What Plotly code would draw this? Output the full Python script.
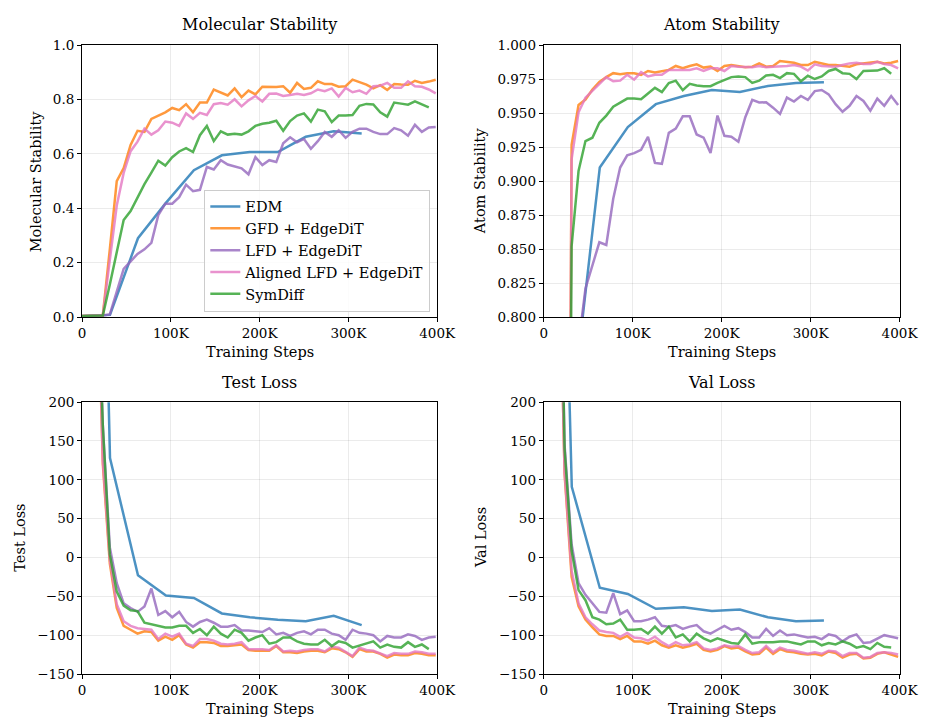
import plotly.graph_objects as go
from plotly.subplots import make_subplots

# ---------------- data ----------------
steps_k = [0, 7.8, 15.6, 23.4, 31.3, 39.1, 46.9, 54.7, 62.5, 70.3, 78.1, 85.9, 93.8,
           101.6, 109.4, 117.2, 125, 132.8, 140.6, 148.4, 156.3, 164.1, 171.9, 179.7,
           187.5, 195.3, 203.1, 210.9, 218.8, 226.6, 234.4, 242.2, 250, 257.8, 265.6,
           273.4, 281.3, 289.1, 296.9, 304.7, 312.5, 320.3, 328.1, 335.9, 343.8, 351.6,
           359.4, 367.2, 375, 382.8, 390.6, 398.4]
edm_steps_k = [0, 31.5, 63, 94.5, 126, 157.5, 189, 220.5, 252, 283.5, 315]

series_names = ["EDM", "GFD + EdgeDiT", "LFD + EdgeDiT", "Aligned LFD + EdgeDiT", "SymDiff"]
series_colors = ["rgba(31,119,180,0.8)", "rgba(255,127,14,0.8)", "rgba(148,103,189,0.8)",
                 "rgba(227,119,194,0.8)", "rgba(44,160,44,0.8)"]

# Molecular stability
mol_edm = [0.003, 0.008, 0.29, 0.42, 0.54, 0.595, 0.607, 0.607, 0.663, 0.683, 0.675]
mol_gfd = [0.004, 0.004, 0.005, 0.006, 0.25, 0.50, 0.548, 0.633, 0.685, 0.681, 0.729, 0.741,
           0.753, 0.769, 0.761, 0.783, 0.753, 0.789, 0.789, 0.837, 0.825, 0.815, 0.841, 0.809,
           0.833, 0.819, 0.847, 0.847, 0.846, 0.849, 0.825, 0.861, 0.839, 0.843, 0.867, 0.857,
           0.857, 0.847, 0.849, 0.873, 0.864, 0.855, 0.841, 0.853, 0.835, 0.857, 0.855, 0.854,
           0.869, 0.861, 0.866, 0.873]
mol_lfd = [0.004, 0.004, 0.005, 0.006, 0.01, 0.09, 0.177, 0.205, 0.232, 0.249, 0.273, 0.375,
           0.417, 0.417, 0.441, 0.487, 0.463, 0.468, 0.552, 0.543, 0.577, 0.561, 0.555, 0.547,
           0.525, 0.588, 0.559, 0.577, 0.570, 0.639, 0.661, 0.643, 0.655, 0.619, 0.647, 0.681,
           0.663, 0.687, 0.659, 0.681, 0.693, 0.693, 0.681, 0.673, 0.673, 0.695, 0.687, 0.667,
           0.707, 0.681, 0.697, 0.699]
mol_alfd = [0.004, 0.004, 0.005, 0.006, 0.21, 0.41, 0.53, 0.61, 0.645, 0.693, 0.671, 0.687,
            0.719, 0.715, 0.703, 0.749, 0.729, 0.751, 0.743, 0.783, 0.787, 0.781, 0.801, 0.775,
            0.797, 0.813, 0.793, 0.821, 0.822, 0.813, 0.817, 0.821, 0.817, 0.823, 0.837, 0.831,
            0.841, 0.811, 0.843, 0.827, 0.833, 0.821, 0.849, 0.851, 0.861, 0.843, 0.843, 0.867,
            0.849, 0.847, 0.837, 0.823]
mol_sym = [0.004, 0.004, 0.005, 0.006, 0.12, 0.24, 0.357, 0.39, 0.441, 0.489, 0.531, 0.575,
           0.557, 0.588, 0.609, 0.621, 0.607, 0.669, 0.703, 0.647, 0.683, 0.671, 0.674, 0.671,
           0.683, 0.703, 0.711, 0.715, 0.722, 0.685, 0.721, 0.741, 0.749, 0.719, 0.763, 0.757,
           0.717, 0.741, 0.741, 0.743, 0.777, 0.784, 0.782, 0.753, 0.737, 0.789, 0.785, 0.781,
           0.793, 0.781, 0.771]

# Atom stability
atom_edm = [0.0, 0.73, 0.910, 0.9398, 0.9566, 0.9626, 0.967, 0.9655, 0.970, 0.9722, 0.9727]
atom_gfd = [0.0, 0.0, 0.0, 0.0, 0.9266, 0.956, 0.960, 0.9674, 0.9729, 0.9765, 0.9794, 0.9787,
            0.9794, 0.9794, 0.9782, 0.981, 0.9799, 0.9806, 0.9818, 0.9847, 0.983, 0.9847, 0.9859,
            0.9835, 0.9842, 0.981, 0.9847, 0.9854, 0.9847, 0.9837, 0.9842, 0.9866, 0.9842, 0.9847,
            0.9883, 0.9878, 0.9871, 0.9854, 0.9854, 0.9878, 0.9866, 0.9854, 0.9854, 0.9847,
            0.9842, 0.9859, 0.9866, 0.9871, 0.9878, 0.9866, 0.9871, 0.9883]
atom_lfd = [0.0, 0.0, 0.0, 0.0, 0.45, 0.78, 0.821, 0.838, 0.855, 0.853, 0.887, 0.910, 0.919,
            0.9206, 0.923, 0.9326, 0.9134, 0.9127, 0.9355, 0.9386, 0.9477, 0.9477, 0.9343, 0.932,
            0.9206, 0.9482, 0.9333, 0.9326, 0.929, 0.947, 0.9597, 0.9578, 0.958, 0.954, 0.9494,
            0.9614, 0.9585, 0.9626, 0.9597, 0.9662, 0.967, 0.9638, 0.9566, 0.951, 0.9554,
            0.9626, 0.959, 0.9518, 0.9607, 0.9554, 0.9626, 0.956]
atom_alfd = [0.0, 0.0, 0.0, 0.0, 0.916, 0.9506, 0.9614, 0.9662, 0.971, 0.9765, 0.9734, 0.9739,
             0.9782, 0.9746, 0.9801, 0.977, 0.9782, 0.9782, 0.9818, 0.9818, 0.9818, 0.9818, 0.983,
             0.981, 0.983, 0.983, 0.981, 0.9847, 0.9842, 0.9837, 0.9837, 0.9847, 0.9837, 0.9842,
             0.9842, 0.9847, 0.9854, 0.9842, 0.9813, 0.9859, 0.9847, 0.9842, 0.9842, 0.9854,
             0.9866, 0.9871, 0.9861, 0.9861, 0.9878, 0.9861, 0.9854, 0.983]
atom_sym = [0.0, 0.0, 0.0, 0.0, 0.852, 0.9074, 0.9295, 0.9319, 0.9429, 0.9482, 0.9547, 0.9578,
            0.9607, 0.9607, 0.9602, 0.9645, 0.9686, 0.9655, 0.9722, 0.9739, 0.9669, 0.9715,
            0.9703, 0.9698, 0.9698, 0.9722, 0.9746, 0.9765, 0.977, 0.9765, 0.9722, 0.9739,
            0.9777, 0.9782, 0.9758, 0.9794, 0.9789, 0.9734, 0.9775, 0.9751, 0.977, 0.981,
            0.9825, 0.9794, 0.9789, 0.9751, 0.981, 0.981, 0.9813, 0.983, 0.9789]

# Test loss
test_edm = [1640, 128, -23, -49, -52, -72, -77, -80, -82, -75, -87]
test_gfd = [2000, 1200, 448, 120, -8, -65, -88, -93, -98, -95, -96, -107, -102, -106, -100,
            -112, -116, -109, -109, -110, -114, -114, -113, -112, -119, -120, -120, -120, -114,
            -122, -122, -123, -121, -120, -120, -122, -117, -118, -122, -128, -118, -121, -121,
            -124, -129, -125, -126, -126, -123, -124, -126, -126]
test_lfd = [2000, 1200, 430, 170, 13, -33, -59, -65, -70, -63, -40, -74, -69, -77, -70, -83,
            -89, -83, -80, -84, -89, -89, -87, -94, -94, -95, -96, -91, -99, -97, -101, -97, -95,
            -99, -93, -93, -98, -100, -106, -93, -97, -98, -100, -108, -101, -103, -103, -99,
            -101, -106, -103, -102]
test_alfd = [2000, 1200, 450, 125, -3, -60, -82, -88, -91, -92, -93, -105, -98, -102, -98,
             -111, -114, -105, -105, -107, -111, -112, -111, -109, -118, -118, -118, -119, -113,
             -121, -120, -121, -119, -118, -118, -121, -115, -116, -121, -127, -116, -119, -120,
             -123, -127, -123, -124, -124, -121, -122, -124, -124]
test_sym = [2000, 1200, 430, 170, 4, -44, -62, -68, -69, -84, -86, -88, -90, -90, -88, -88,
            -97, -92, -100, -89, -98, -103, -93, -97, -107, -103, -100, -111, -109, -103, -103,
            -108, -111, -112, -112, -106, -114, -108, -110, -116, -113, -111, -108, -116, -112,
            -115, -116, -109, -115, -112, -118]

# Val loss
val_edm = [1464, 91, -39, -47, -66, -64, -69, -67, -77, -82, -81]
val_gfd = [2000, 1200, 507, 108, -25, -63, -80, -90, -99, -101, -101, -105, -101, -108, -108,
           -111, -107, -113, -116, -113, -116, -114, -111, -119, -121, -119, -114, -117, -116,
           -121, -125, -124, -116, -124, -118, -121, -122, -124, -125, -124, -126, -121, -123,
           -129, -125, -124, -130, -129, -124, -122, -125, -128]
val_lfd = [2000, 1200, 600, 145, 17, -33, -48, -59, -70, -71, -46, -73, -68, -82, -82, -80,
           -77, -88, -89, -87, -92, -89, -87, -95, -98, -93, -88, -93, -91, -96, -103, -103, -92,
           -101, -94, -100, -99, -101, -103, -102, -105, -99, -101, -108, -102, -99, -110, -109,
           -104, -100, -102, -104]
val_alfd = [2000, 1200, 500, 110, -17, -59, -77, -86, -94, -96, -97, -102, -97, -103, -104,
            -107, -102, -109, -114, -109, -113, -112, -109, -117, -119, -117, -113, -115, -114,
            -119, -123, -122, -114, -122, -116, -119, -120, -122, -124, -122, -124, -120, -121,
            -127, -123, -123, -129, -128, -123, -122, -123, -125]
val_sym = [2000, 1200, 600, 140, 9, -42, -55, -77, -80, -86, -85, -80, -93, -93, -92, -98, -89,
           -98, -89, -103, -99, -108, -98, -104, -108, -104, -107, -110, -111, -99, -111, -109,
           -109, -109, -108, -108, -110, -112, -108, -108, -113, -110, -112, -108, -111, -116,
           -114, -118, -110, -115, -116]

x_tickvals = [0, 100, 200, 300, 400]
x_ticktext = ["0", "100K", "200K", "300K", "400K"]

panels = [
    dict(title="Molecular Stability", ytitle="Molecular Stability",
         data=[mol_edm, mol_gfd, mol_lfd, mol_alfd, mol_sym],
         yrange=[0, 1.0], dtick=0.2, fmt=".1f"),
    dict(title="Atom Stability", ytitle="Atom Stability",
         data=[atom_edm, atom_gfd, atom_lfd, atom_alfd, atom_sym],
         yrange=[0.8, 1.0], dtick=0.025, fmt=".3f"),
    dict(title="Test Loss", ytitle="Test Loss",
         data=[test_edm, test_gfd, test_lfd, test_alfd, test_sym],
         yrange=[-150, 200], dtick=50, fmt="d"),
    dict(title="Val Loss", ytitle="Val Loss",
         data=[val_edm, val_gfd, val_lfd, val_alfd, val_sym],
         yrange=[-150, 200], dtick=50, fmt="d"),
]

# ---------------- layout geometry (window pixels) ----------------
W, H = 940, 727
xdoms = [(80, 444), (553.3, 918), (80, 444), (553.3, 918)]
ydoms = [(38, 316), (38, 316), (403, 681), (403, 681)]
title_y = [17, 17, 383, 383]
xtitle_y = [352, 352, 717, 717]
ytitle_x = [33, 488, 16, 489]

FONT = "DejaVu Serif"

def fx(p):
    return p / W

def fy(p):
    return 1 - p / H

fig = make_subplots(rows=2, cols=2)

for i, p in enumerate(panels):
    row, col = i // 2 + 1, i % 2 + 1
    for j, (name, color) in enumerate(zip(series_names, series_colors)):
        xs = edm_steps_k if j == 0 else steps_k
        ys = p["data"][j]
        fig.add_trace(go.Scatter(x=xs[:len(ys)], y=ys, mode="lines", name=name,
                                 line=dict(color=color, width=2.5),
                                 showlegend=(i == 0), legendgroup=name,
                                 hoverinfo="skip"),
                      row=row, col=col)

axis_common = dict(showline=True, linecolor="black", linewidth=1, mirror=True,
                   ticks="outside", ticklen=4, tickwidth=1, tickcolor="black",
                   showgrid=True, gridcolor="rgba(0,0,0,0.08)", gridwidth=1,
                   zeroline=False, tickfont=dict(family=FONT, size=13.5, color="black"))

annotations = []
for i, p in enumerate(panels):
    xa = "xaxis" if i == 0 else f"xaxis{i+1}"
    ya = "yaxis" if i == 0 else f"yaxis{i+1}"
    x0, x1 = xdoms[i]
    y0, y1 = ydoms[i]
    fig.layout[xa].update(domain=[fx(x0), fx(x1)], range=[0, 400],
                          tickvals=x_tickvals, ticktext=x_ticktext, **axis_common)
    fig.layout[ya].update(domain=[fy(y1), fy(y0)], range=p["yrange"],
                          dtick=p["dtick"], tick0=p["yrange"][0], tickformat=p["fmt"],
                          **axis_common)
    cx = fx((x0 + x1) / 2)
    annotations.append(dict(text=p["title"], x=cx, y=fy(title_y[i]), xref="paper",
                            yref="paper", showarrow=False, xanchor="center",
                            yanchor="middle",
                            font=dict(family=FONT, size=16, color="black")))
    annotations.append(dict(text="Training Steps", x=cx, y=fy(xtitle_y[i]),
                            xref="paper", yref="paper", showarrow=False,
                            xanchor="center", yanchor="middle",
                            font=dict(family=FONT, size=14.5, color="black")))
    annotations.append(dict(text=p["ytitle"], x=fx(ytitle_x[i]), y=fy((y0 + y1) / 2),
                            xref="paper", yref="paper", showarrow=False, textangle=-90,
                            xanchor="center", yanchor="middle",
                            font=dict(family=FONT, size=14.5, color="black")))

fig.update_layout(
    width=W, height=H, margin=dict(l=0, r=0, t=0, b=0),
    paper_bgcolor="white", plot_bgcolor="white",
    font=dict(family=FONT, size=13.5, color="black"),
    annotations=annotations, hovermode=False,
    legend=dict(x=fx(437), y=fy(248), xanchor="right", yanchor="middle",
                bgcolor="rgba(255,255,255,0.85)", bordercolor="#cccccc", borderwidth=1,
                font=dict(family=FONT, size=14.5, color="black"),
                tracegroupgap=0),
)

fig.write_html("out.html",
               config={"displayModeBar": False},
               post_script="document.body.style.margin='0';"
                           "document.body.style.overflow='hidden';"
                           "document.documentElement.style.overflow='hidden';")
